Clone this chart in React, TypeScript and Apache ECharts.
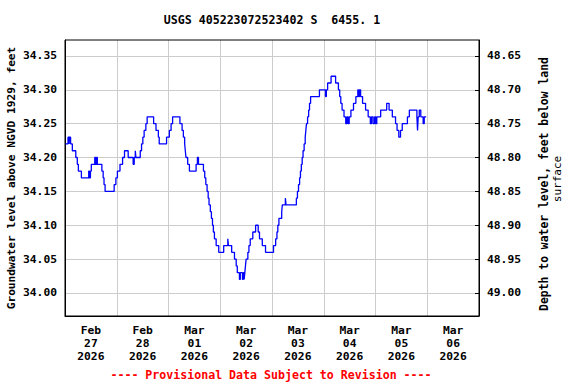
import React, { useEffect, useRef } from "react";
import * as echarts from "echarts";

const titleText = "USGS 405223072523402 S  6455. 1";
const footerText = "---- Provisional Data Subject to Revision ----";
const leftAxisName = "Groundwater level above NGVD 1929, feet";
const rightAxisName1 = "Depth to water level, feet below land";
const rightAxisName2 = "surface";

// x-axis day labels (centered at noon of each day)
const dayLabels = [
  "Feb\n27\n2026",
  "Feb\n28\n2026",
  "Mar\n01\n2026",
  "Mar\n02\n2026",
  "Mar\n03\n2026",
  "Mar\n04\n2026",
  "Mar\n05\n2026",
  "Mar\n06\n2026",
];

// hours since 2026-02-27 00:00
const hours = [
  0, 1.4, 1.9, 2.1, 2.6, 3.4, 5.0, 5.7, 6.2, 7.6, 11.0, 11.4, 11.8, 12.2, 13.8, 14.2, 14.6, 15.0,
  17.1, 17.7, 18.1, 18.6, 22.8, 23.6, 24.3, 25.5, 26.7, 27.6, 29.3, 31.6, 32.1, 32.6, 32.9, 34.9,
  35.5, 36.1, 36.7, 37.5, 38.1, 41.1, 42.2, 43.3, 43.7, 47.1, 48.4, 49.2, 49.9, 53.3, 54.3, 54.9,
  55.5, 55.8, 56.1, 56.9, 57.7, 60.8, 61.4, 61.9, 64.2, 64.8, 65.3, 65.9, 66.4, 66.8, 67.4, 67.9,
  68.4, 68.8, 69.3, 70.1, 71.3, 73.6, 75.5, 75.8, 77.3, 78.6, 79.4, 79.9, 80.9, 81.3, 82.3, 82.7,
  83.1, 83.4, 83.7, 84.0, 84.8, 85.3, 85.9, 87.1, 88.4, 89.6, 90.2, 91.5, 93.0, 96.7, 97.7, 98.3,
  98.7, 99.2, 100.5, 100.8, 102.2, 102.5, 107.3, 107.8, 108.3, 108.8, 109.2, 109.6, 110.0, 110.4,
  110.9, 111.4, 111.7, 112.0, 112.5, 113.0, 113.4, 113.9, 118.0, 120.8, 121.2, 121.8, 123.4, 125.5,
  126.8, 127.4, 127.9, 128.5, 129.4, 130.2, 130.8, 131.3, 131.8, 132.6, 133.8, 134.9, 135.8, 136.2,
  136.6, 137.1, 138.0, 139.4, 140.6, 141.6, 142.2, 142.9, 143.6, 144.1, 144.6, 146.4, 149.2, 150.3,
  151.8, 153.3, 154.0, 154.8, 155.6, 156.4, 158.8, 159.7, 163.2, 163.5, 163.8, 164.3, 165.0, 166.1,
  166.6, 167.5,
];

// groundwater level, feet above NGVD 1929
const levels = [
  34.22, 34.23, 34.22, 34.23, 34.22, 34.21, 34.20, 34.19, 34.18, 34.17, 34.18, 34.17, 34.18, 34.19, 34.20, 34.19, 34.20, 34.19,
  34.18, 34.17, 34.16, 34.15, 34.16, 34.17, 34.18, 34.19, 34.20, 34.21, 34.20, 34.19, 34.20, 34.21, 34.20, 34.21,
  34.22, 34.23, 34.24, 34.25, 34.26, 34.25, 34.24, 34.23, 34.22, 34.23, 34.24, 34.25, 34.26, 34.25, 34.24, 34.23,
  34.22, 34.21, 34.20, 34.19, 34.18, 34.19, 34.20, 34.19, 34.18, 34.17, 34.16, 34.15, 34.14, 34.13, 34.12, 34.11,
  34.10, 34.09, 34.08, 34.07, 34.06, 34.07, 34.08, 34.07, 34.06, 34.05, 34.04, 34.03, 34.02, 34.03, 34.02, 34.03,
  34.02, 34.03, 34.04, 34.05, 34.06, 34.07, 34.08, 34.09, 34.10, 34.09, 34.08, 34.07, 34.06, 34.07, 34.08, 34.09,
  34.10, 34.11, 34.12, 34.13, 34.14, 34.13, 34.14, 34.15, 34.16, 34.17, 34.18, 34.19, 34.20, 34.21,
  34.22, 34.23, 34.24, 34.25, 34.26, 34.27, 34.28, 34.29, 34.30, 34.29, 34.30, 34.31, 34.32, 34.31,
  34.30, 34.29, 34.28, 34.27, 34.26, 34.25, 34.26, 34.25, 34.26, 34.27, 34.28, 34.29, 34.30, 34.29,
  34.30, 34.29, 34.28, 34.27, 34.26, 34.25, 34.26, 34.25, 34.26, 34.25, 34.26, 34.27, 34.28, 34.27,
  34.26, 34.25, 34.24, 34.23, 34.24, 34.25, 34.26, 34.27, 34.26, 34.24, 34.26, 34.27, 34.26, 34.25,
  34.26, 34.26,
];

const levelMin = 33.966;
const levelMax = 34.3735;
const datumOffset = 83.0; // depth = 83.0 - level

const FONT = "'DejaVu Sans Mono', 'Liberation Mono', monospace";

export default function App() {
  const ref = useRef<HTMLDivElement>(null);

  useEffect(() => {
    if (!ref.current) return;
    const chart = echarts.init(ref.current, undefined, { renderer: "svg" });
    const data = hours.map((h, i) => [h, levels[i]]);

    chart.setOption({
      animation: false,
      backgroundColor: "#ffffff",
      grid: {
        left: 65,
        right: 97,
        top: 40,
        bottom: 68,
        show: true,
        borderColor: "#000000",
        borderWidth: 1,
        z: 10,
      },
      graphic: [
        {
          type: "text",
          x: 272,
          y: 20,
          style: {
            text: titleText,
            font: `bold 11.6px ${FONT}`,
            fill: "#000000",
            textAlign: "center",
            textVerticalAlign: "middle",
          },
        },
        {
          type: "text",
          x: 271,
          y: 375,
          style: {
            text: footerText,
            font: `bold 11.6px ${FONT}`,
            fill: "#ff0000",
            textAlign: "center",
            textVerticalAlign: "middle",
          },
        },
        {
          type: "text",
          x: 11,
          y: 178,
          rotation: Math.PI / 2,
          style: {
            text: leftAxisName,
            font: `bold 11.2px ${FONT}`,
            fill: "#000000",
            textAlign: "center",
            textVerticalAlign: "middle",
          },
        },
        {
          type: "text",
          x: 544,
          y: 184,
          rotation: Math.PI / 2,
          style: {
            text: rightAxisName1,
            font: `bold 11.4px ${FONT}`,
            fill: "#000000",
            textAlign: "center",
            textVerticalAlign: "middle",
          },
        },
        {
          type: "text",
          x: 557,
          y: 179,
          rotation: Math.PI / 2,
          style: {
            text: rightAxisName2,
            font: `11px ${FONT}`,
            fill: "#000000",
            textAlign: "center",
            textVerticalAlign: "middle",
          },
        },
      ],
      xAxis: [
        {
          type: "value",
          min: 0,
          max: 192,
          interval: 24,
          position: "bottom",
          axisLine: { show: true, lineStyle: { color: "#000000", width: 1 } },
          axisTick: { show: false },
          axisLabel: { show: false },
          splitLine: {
            show: true,
            showMinLine: false,
            showMaxLine: false,
            lineStyle: { color: "#cccccc", width: 1 },
          },
        },
        {
          type: "category",
          data: dayLabels,
          boundaryGap: true,
          position: "bottom",
          axisLine: { show: false },
          axisTick: { show: false },
          splitLine: { show: false },
          axisLabel: {
            show: true,
            interval: 0,
            margin: 8,
            color: "#000000",
            fontFamily: FONT,
            fontWeight: "bold",
            fontSize: 11.3,
            lineHeight: 13,
          },
        },
      ],
      yAxis: [
        {
          type: "value",
          position: "left",
          min: levelMin,
          max: levelMax,
          splitNumber: 8,
          axisLine: { show: true, lineStyle: { color: "#000000", width: 1 } },
          axisTick: { show: false },
          axisLabel: {
            show: true,
            showMinLabel: false,
            showMaxLabel: false,
            margin: 8,
            color: "#000000",
            fontFamily: FONT,
            fontWeight: "bold",
            fontSize: 11.3,
            formatter: (v: number) => v.toFixed(2),
          },
          splitLine: {
            show: true,
            showMinLine: false,
            showMaxLine: false,
            lineStyle: { color: "#cccccc", width: 1 },
          },
        },
        {
          type: "value",
          position: "right",
          inverse: true,
          min: +(datumOffset - levelMax).toFixed(4),
          max: +(datumOffset - levelMin).toFixed(4),
          splitNumber: 8,
          axisLine: { show: true, lineStyle: { color: "#000000", width: 1 } },
          axisTick: { show: true, inside: true, length: 4, lineStyle: { color: "#000000" } },
          axisLabel: {
            show: true,
            showMinLabel: false,
            showMaxLabel: false,
            margin: 8,
            color: "#000000",
            fontFamily: FONT,
            fontWeight: "bold",
            fontSize: 11.3,
            formatter: (v: number) => v.toFixed(2),
          },
          splitLine: { show: false },
        },
      ],
      series: [
        {
          type: "line",
          xAxisIndex: 0,
          yAxisIndex: 0,
          data,
          step: "end",
          showSymbol: false,
          symbol: "none",
          lineStyle: { color: "#0000ff", width: 1.3 },
          z: 3,
        },
      ],
    });

    return () => {
      chart.dispose();
    };
  }, []);

  return (
    <div
      ref={ref}
      style={{ position: "fixed", left: 0, top: 0, width: 576, height: 384, background: "#fff" }}
    />
  );
}
